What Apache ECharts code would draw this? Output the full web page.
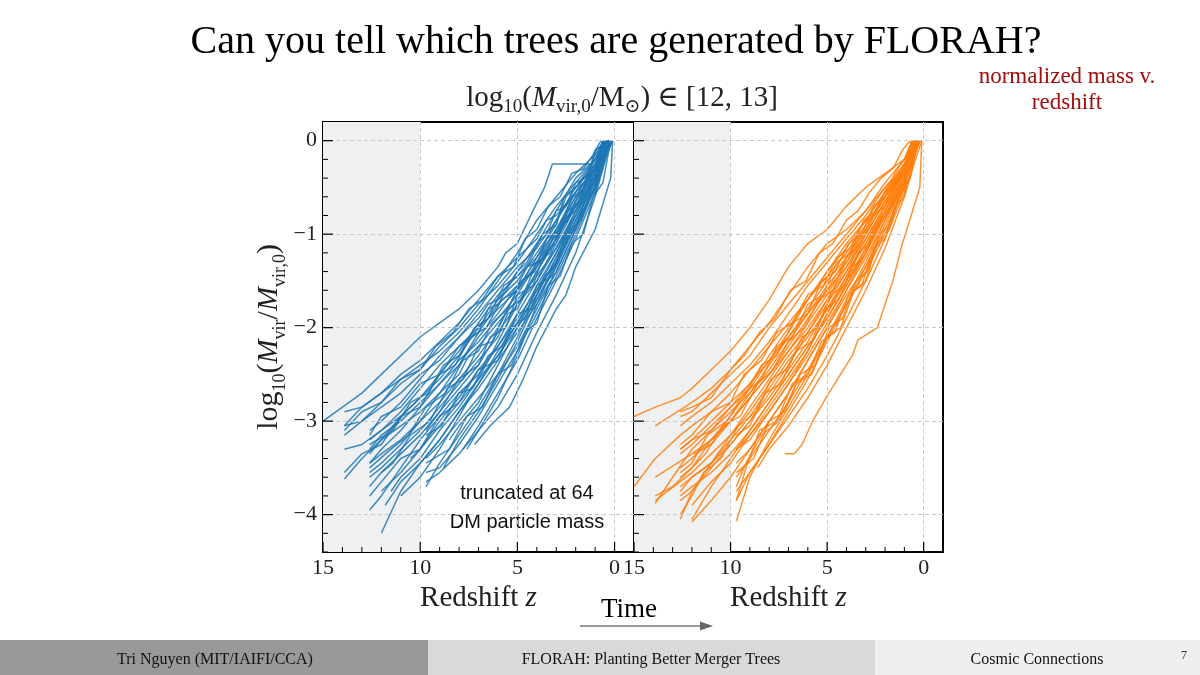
<!DOCTYPE html>
<html><head><meta charset="utf-8">
<script src="https://cdn.jsdelivr.net/npm/echarts@6/dist/echarts.min.js"></script>
<style>html,body{margin:0;padding:0;background:#fff}#c{width:1200px;height:675px}</style>
</head><body><div id="c"></div>
<script>
// ---- tick values ----
const zTicks = [0, 5, 10, 15];
const yTicks = [0, -1, -2, -3, -4];
const zMinorStep = 1;
const yMinorStep = 0.2;
const shadeRange = [10, 15];

// ---- main branches of merger trees (flat z,y pairs) ----
const blueTrees = [
 [0.3,0, 1,-0.1, 1.2,-0.25, 3.2,-0.25, 3.6,-0.5, 4.2,-0.75, 5,-1.1, 5.6,-1.2, 6,-1.35, 7,-1.6, 8,-1.8, 9,-1.95, 10,-2.1, 11,-2.3, 12,-2.5, 13,-2.7, 14,-2.85, 15,-3.0],
 [0.2,0, 1,-0.3, 1.6,-0.4, 2,-0.55, 3,-0.8, 3.5,-0.85, 4,-1.05, 5,-1.25, 6,-1.45, 7,-1.7, 8,-1.95, 9,-2.15, 10,-2.35, 11,-2.5, 12,-2.7, 13,-2.85, 13.9,-3.05],
 [0.5,0, 1,-0.2, 2,-0.5, 2.6,-0.6, 3,-0.9, 4,-1.2, 5,-1.5, 6,-1.7, 6.5,-1.75, 7,-1.9, 8,-2.1, 9,-2.35, 10,-2.5, 11,-2.7, 12,-2.85, 13,-3.0, 13.9,-3.15],
 [0.4,0, 1,-0.35, 2,-0.7, 3,-1.0, 4,-1.3, 4.5,-1.35, 5,-1.55, 6,-1.85, 7,-2.1, 8,-2.4, 9,-2.6, 10,-2.8, 11,-3.0, 12,-3.15, 12.6,-3.3],
 [0.3,0, 1,-0.4, 2,-0.8, 3,-1.15, 4,-1.45, 5,-1.7, 6,-1.95, 7,-2.2, 7.5,-2.3, 8,-2.5, 9,-2.7, 10,-2.9, 11,-3.05, 12,-3.2, 13,-3.4, 13.9,-3.62],
 [0.6,0, 1,-0.3, 2,-0.65, 3,-1.05, 4,-1.4, 5,-1.8, 5.5,-1.85, 6,-2.1, 7,-2.35, 8,-2.6, 9,-2.85, 10,-3.1, 11,-3.3, 12,-3.5, 12.6,-3.6],
 [0.2,0, 1,-0.5, 2,-0.9, 3,-1.3, 4,-1.6, 5,-1.9, 6,-2.2, 7,-2.5, 8,-2.7, 9,-2.95, 10,-3.2, 11,-3.5, 12,-3.8, 12.6,-3.95],
 [0.5,0, 1,-0.45, 2,-0.95, 3,-1.4, 4,-1.75, 5,-2.05, 6,-2.35, 7,-2.65, 8,-2.9, 9,-3.2, 10,-3.45, 11,-3.75, 12,-4.2],
 [0.1,0, 1,-0.4, 2,-0.85, 3,-1.25, 4,-1.65, 5,-2.1, 6,-2.5, 7,-2.85, 8,-3.15, 9,-3.45, 9.7,-3.7],
 [0.1,0, 0.2,-0.4, 1,-0.95, 2,-1.35, 2.5,-1.65, 3,-1.8, 4,-2.2, 4.7,-2.55, 5.4,-2.85, 6.4,-3.05, 7.2,-3.25],
 [0.3,0, 1,-0.2, 2,-0.45, 3,-0.7, 4,-1.0, 5,-1.3, 6,-1.55, 7,-1.75, 8,-2.0, 9,-2.2, 10,-2.45, 11,-2.6, 12,-2.8, 13,-3.0, 13.9,-3.05],
 [0.6,0, 1,-0.25, 2,-0.6, 3,-0.95, 4,-1.25, 5,-1.45, 6,-1.65, 7,-1.95, 8,-2.25, 9,-2.5, 10,-2.75, 11,-2.95, 12,-3.2, 12.6,-3.35],
 [0.2,0, 1,-0.3, 2,-0.7, 3,-1.1, 4,-1.5, 5,-1.85, 6,-2.2, 7,-2.45, 8,-2.75, 9,-3.0, 10,-3.3, 11,-3.55, 12,-3.75],
 [0.5,0, 1,-0.4, 2,-0.75, 3,-1.2, 4,-1.55, 5,-1.95, 6,-2.3, 7,-2.6, 8,-2.95, 9,-3.3, 10,-3.6, 11,-3.8],
 [0.3,0, 1,-0.5, 2,-1.0, 3,-1.45, 4,-1.85, 5,-2.25, 6,-2.6, 7,-2.95, 8,-3.25, 9,-3.5, 9.7,-3.55],
 [0.4,0, 1,-0.35, 2,-0.8, 3,-1.2, 4,-1.6, 5,-2.0, 6,-2.4, 7,-2.8, 8,-3.05, 8.5,-3.2],
 [0.2,0, 1,-0.6, 2,-1.2, 3,-1.65, 4,-2.05, 5,-2.5, 6,-2.85, 7,-3.1, 7.6,-3.3],
 [0.5,0, 1,-0.3, 2,-0.55, 3,-0.95, 4,-1.3, 5,-1.65, 6,-1.9, 7,-2.15, 8,-2.35, 9,-2.6, 10,-2.85, 11,-3.1, 12,-3.3, 12.6,-3.45],
 [0.3,0, 1,-0.25, 2,-0.6, 3,-1.0, 4,-1.35, 5,-1.6, 6,-1.8, 7,-2.0, 8,-2.2, 9,-2.4, 10,-2.65, 11,-2.9, 12,-3.1, 12.6,-3.2],
 [0.4,0, 1,-0.45, 2,-0.85, 3,-1.3, 4,-1.7, 5,-2.0, 6,-2.3, 7,-2.55, 8,-2.8, 9,-3.05, 10,-3.3, 10.5,-3.4],
 [0.6,0, 1,-0.2, 2,-0.4, 3,-0.75, 4,-1.1, 5,-1.4, 6,-1.7, 7,-2.0, 8,-2.3, 9,-2.55, 10,-2.75, 11,-2.95, 12,-3.1, 13,-3.25, 13.9,-3.3],
 [0.3,0, 1,-0.35, 2,-0.75, 3,-1.15, 4,-1.5, 5,-1.75, 6,-2.05, 7,-2.4, 8,-2.65, 9,-2.9, 10,-3.15, 11,-3.35, 12,-3.55, 12.6,-3.7],
 [0.2,0, 1,-0.4, 2,-0.9, 3,-1.35, 4,-1.7, 5,-2.15, 6,-2.55, 7,-2.9, 8,-3.2, 8.8,-3.5],
 [0.5,0, 1,-0.5, 2,-0.95, 3,-1.4, 4,-1.8, 5,-2.2, 6,-2.5, 7,-2.75, 8,-3.0, 9,-3.25, 9.7,-3.4],
 [0.4,0, 1,-0.3, 2,-0.65, 3,-1.05, 4,-1.4, 5,-1.75, 6,-2.15, 7,-2.55, 8,-2.85, 9,-3.1, 10,-3.4, 11,-3.6, 11.5,-3.75],
 [0.3,0, 1,-0.15, 2,-0.35, 3,-0.6, 4,-0.85, 5,-1.2, 6,-1.5, 7,-1.8, 8,-2.05, 9,-2.25, 10,-2.4, 11,-2.55, 12,-2.7, 13,-2.85, 13.9,-2.9],
 [0.5,0, 1,-0.4, 2,-0.7, 3,-1.05, 4,-1.35, 5,-1.55, 6,-1.75, 7,-2.05, 8,-2.4, 9,-2.7, 10,-3.0, 11,-3.25, 12,-3.45, 12.6,-3.55],
 [0.2,0, 1,-0.55, 2,-1.05, 3,-1.5, 4,-1.9, 5,-2.35, 6,-2.7, 7,-3.05, 7.8,-3.3],
 [0.4,0, 1,-0.25, 2,-0.5, 3,-0.85, 4,-1.25, 5,-1.6, 6,-2.0, 7,-2.3, 8,-2.55, 9,-2.8, 10,-3.0, 11,-3.2, 12,-3.35, 12.6,-3.45],
 [0.6,0, 1,-0.35, 2,-0.8, 3,-1.25, 4,-1.65, 5,-1.95, 6,-2.25, 7,-2.6, 8,-2.9, 9,-3.2, 10,-3.45, 11,-3.65, 11.8,-3.9],
 [0.3,0, 1,-0.3, 2,-0.55, 3,-0.85, 4,-1.15, 5,-1.35, 6,-1.6, 7,-1.85, 8,-2.1, 9,-2.3, 10,-2.55, 11,-2.8, 12,-3.0, 12.6,-3.1],
 [0.4,0, 1,-0.5, 2,-0.9, 3,-1.3, 4,-1.75, 5,-2.3, 6,-2.75, 7,-3.1, 8,-3.35, 9,-3.55, 9.7,-3.65],
 [0.2,0, 0.6,-0.15, 1,-0.2, 1.5,-0.4, 2,-0.45, 2.5,-0.7, 3,-0.75, 3.5,-1.0, 4,-1.1, 4.5,-1.3, 5,-1.4, 6,-1.75, 6.5,-1.8, 7,-2.05, 8,-2.2, 9,-2.5, 10,-2.6, 11,-2.85, 12,-2.95, 12.6,-3.15],
 [0.4,0, 0.8,-0.3, 1.3,-0.35, 1.8,-0.65, 2.4,-0.75, 3,-1.1, 3.6,-1.2, 4.2,-1.55, 5,-1.65, 5.6,-2.0, 6.4,-2.1, 7,-2.4, 8,-2.55, 9,-2.9, 9.7,-3.1],
 [0.1,0, 0.5,-0.2, 1,-0.55, 1.5,-0.6, 2,-0.95, 2.6,-1.05, 3.2,-1.45, 4,-1.55, 4.6,-1.9, 5.3,-2.0, 6,-2.35, 7,-2.45, 8,-2.8, 9,-2.95, 10,-3.3, 11,-3.4, 12,-3.65, 12.6,-3.8],
 [0.7,0, 1.1,-0.15, 1.6,-0.3, 2.2,-0.35, 2.8,-0.6, 3.4,-0.7, 4,-0.95, 4.6,-1.05, 5.2,-1.35, 6,-1.45, 6.8,-1.7, 7.5,-1.8, 8.3,-2.05, 9.2,-2.2, 10,-2.45, 11,-2.55, 12,-2.8, 13,-2.9, 13.9,-3.1],
 [0.3,0, 0.7,-0.35, 1.2,-0.5, 1.7,-0.85, 2.3,-0.95, 2.9,-1.3, 3.6,-1.45, 4.3,-1.8, 5,-1.85, 5.8,-2.2, 6.5,-2.3, 7.3,-2.65, 8,-2.7, 8.9,-3.05, 9.7,-3.15],
 [0.5,0, 0.9,-0.1, 1.4,-0.35, 2,-0.5, 2.5,-0.6, 3,-0.9, 3.7,-1.0, 4.4,-1.3, 5,-1.45, 5.7,-1.55, 6.5,-1.9, 7.2,-2.0, 8,-2.3, 8.8,-2.4, 9.6,-2.7, 10.5,-2.8, 11.4,-3.1, 12.6,-3.25],
 [0.2,0, 0.6,-0.45, 1.1,-0.6, 1.6,-1.0, 2.2,-1.1, 2.8,-1.45, 3.4,-1.55, 4,-1.95, 4.6,-2.05, 5.3,-2.4, 6,-2.5, 6.8,-2.85, 7.6,-2.95, 8.5,-3.3, 9.7,-3.45],
 [0.6,0, 1,-0.3, 1.5,-0.45, 2,-0.75, 2.7,-0.85, 3.3,-1.2, 4,-1.3, 4.8,-1.7, 5.5,-1.8, 6.3,-2.15, 7,-2.2, 7.8,-2.55, 8.6,-2.65, 9.5,-3.0, 10.5,-3.15, 11.4,-3.45, 12,-3.55],
 [0.3,0, 0.8,-0.2, 1.3,-0.45, 1.8,-0.55, 2.4,-0.85, 3,-0.95, 3.6,-1.25, 4.3,-1.35, 5,-1.6, 5.8,-1.7, 6.6,-2.0, 7.4,-2.1, 8.2,-2.4, 9,-2.5, 10,-2.85, 11,-2.95, 12,-3.25, 13,-3.35, 13.9,-3.55],
 [0.4,0, 0.8,-0.25, 1.2,-0.3, 1.7,-0.55, 2.2,-0.6, 2.8,-0.95, 3.5,-1.05, 4.1,-1.4, 4.8,-1.5, 5.5,-1.8, 6.3,-1.95, 7,-2.25, 7.8,-2.35, 8.7,-2.7, 9.7,-2.85, 10.6,-3.15, 11.5,-3.3, 12.6,-3.5]
];

const orangeTrees = [
 [0.2,0, 1,-0.2, 2,-0.35, 3,-0.5, 4,-0.7, 5,-0.95, 6,-1.1, 7,-1.35, 8,-1.7, 9,-2.0, 10,-2.25, 11,-2.45, 12,-2.65, 12.6,-2.75, 13.9,-2.85, 15,-2.95],
 [0.5,0, 1,-0.3, 2,-0.5, 3,-0.75, 4,-0.95, 5,-1.1, 6,-1.35, 7,-1.65, 8,-1.95, 9,-2.2, 10,-2.45, 11,-2.65, 12,-2.8, 13.9,-3.05],
 [0.3,0, 1,-0.35, 2,-0.6, 3,-0.9, 4,-1.2, 5,-1.45, 6,-1.7, 7,-1.95, 8,-2.2, 9,-2.45, 10,-2.7, 11,-2.9, 12,-3.05, 12.6,-3.15, 13.9,-3.4, 15,-3.7],
 [0.6,0, 1,-0.25, 2,-0.55, 3,-0.85, 4,-1.15, 5,-1.4, 6,-1.7, 7,-2.0, 8,-2.3, 9,-2.6, 10,-2.8, 11,-3.0, 12,-3.2, 12.6,-3.3],
 [0.2,0, 1,-0.4, 2,-0.75, 3,-1.1, 4,-1.4, 5,-1.7, 6,-2.0, 7,-2.25, 8,-2.5, 9,-2.75, 10,-3.0, 11,-3.2, 12,-3.4, 12.6,-3.5],
 [0.4,0, 1,-0.3, 2,-0.7, 3,-1.05, 4,-1.35, 5,-1.6, 6,-1.85, 7,-2.15, 8,-2.45, 9,-2.7, 10,-2.9, 11,-3.1, 12,-3.3, 13,-3.6, 13.9,-3.88],
 [0.5,0, 1,-0.45, 2,-0.85, 3,-1.25, 4,-1.6, 5,-1.95, 6,-2.3, 7,-2.6, 8,-2.9, 9,-3.2, 9.7,-3.3],
 [0.3,0, 1,-0.5, 2,-1.0, 3,-1.4, 4,-1.75, 5,-2.1, 6,-2.45, 7,-2.8, 8,-3.1, 9,-3.4, 9.7,-3.6],
 [0.1,0, 0.2,-0.5, 1.1,-1.1, 1.6,-1.5, 2.4,-2.0, 3.4,-2.13, 3.7,-2.3, 5,-2.73, 5.7,-2.98, 6.3,-3.25, 6.7,-3.35, 7.2,-3.35],
 [0.4,0, 1,-0.35, 2,-0.75, 3,-1.15, 4,-1.55, 5,-1.9, 6,-2.2, 7,-2.5, 8,-2.8, 9,-3.1, 10,-3.4, 11,-3.7, 12,-4.05],
 [0.2,0, 1,-0.4, 2,-0.85, 3,-1.3, 4,-1.7, 5,-2.1, 6,-2.5, 7,-2.85, 8,-3.2, 9,-3.6, 9.7,-4.07],
 [0.6,0, 1,-0.3, 2,-0.6, 3,-0.95, 4,-1.3, 5,-1.65, 6,-1.95, 7,-2.25, 8,-2.55, 9,-2.85, 10,-3.15, 11,-3.45, 12,-3.75, 12.6,-4.05],
 [0.3,0, 1,-0.25, 2,-0.5, 3,-0.8, 4,-1.05, 5,-1.3, 6,-1.55, 7,-1.85, 8,-2.15, 9,-2.4, 10,-2.6, 11,-2.8, 12,-2.95, 12.6,-3.05],
 [0.5,0, 1,-0.55, 2,-1.05, 3,-1.5, 4,-1.9, 5,-2.3, 6,-2.65, 7,-2.95, 8,-3.25, 9,-3.55, 9.7,-3.85],
 [0.2,0, 1,-0.35, 2,-0.65, 3,-1.0, 4,-1.3, 5,-1.55, 6,-1.85, 7,-2.1, 8,-2.35, 9,-2.65, 10,-2.95, 11,-3.2, 12,-3.5, 12.6,-3.6],
 [0.4,0, 1,-0.4, 2,-0.8, 3,-1.2, 4,-1.5, 5,-1.8, 6,-2.1, 7,-2.35, 8,-2.65, 9,-2.95, 10,-3.2, 11,-3.45, 12,-3.6, 12.6,-3.7],
 [0.3,0, 1,-0.3, 2,-0.55, 3,-0.85, 4,-1.1, 5,-1.4, 6,-1.7, 7,-2.05, 8,-2.35, 9,-2.6, 10,-2.85, 11,-3.05, 12,-3.25, 12.6,-3.35],
 [0.5,0, 1,-0.45, 2,-0.9, 3,-1.35, 4,-1.75, 5,-2.15, 6,-2.55, 7,-2.9, 8,-3.25, 9,-3.55, 9.7,-3.75],
 [0.2,0, 1,-0.3, 2,-0.7, 3,-1.1, 4,-1.45, 5,-1.8, 6,-2.15, 7,-2.45, 8,-2.75, 9,-3.0, 10,-3.25, 11,-3.5, 12,-3.75, 12.6,-3.85],
 [0.6,0, 1,-0.2, 2,-0.45, 3,-0.75, 4,-1.0, 5,-1.25, 6,-1.5, 7,-1.75, 8,-2.0, 9,-2.3, 10,-2.5, 11,-2.7, 12,-2.9, 12.6,-2.95],
 [0.4,0, 1,-0.5, 2,-0.95, 3,-1.35, 4,-1.65, 5,-2.0, 6,-2.35, 7,-2.7, 8,-3.0, 9,-3.3, 9.7,-3.45],
 [0.3,0, 1,-0.6, 2,-1.15, 3,-1.6, 4,-2.0, 5,-2.4, 6,-2.75, 7,-3.05, 8,-3.3, 8.6,-3.5],
 [0.5,0, 1,-0.35, 2,-0.65, 3,-1.0, 4,-1.4, 5,-1.75, 6,-2.05, 7,-2.3, 8,-2.6, 9,-2.9, 10,-3.15, 11,-3.35, 12,-3.55, 13.9,-3.85],
 [0.2,0, 1,-0.45, 2,-0.8, 3,-1.15, 4,-1.5, 5,-1.85, 6,-2.25, 7,-2.6, 8,-2.9, 9,-3.15, 10,-3.45, 11,-3.65, 12,-3.9],
 [0.4,0, 1,-0.25, 2,-0.6, 3,-0.95, 4,-1.25, 5,-1.5, 6,-1.8, 7,-2.1, 8,-2.4, 9,-2.7, 10,-3.0, 11,-3.25, 11.9,-3.35],
 [0.6,0, 1,-0.4, 2,-0.7, 3,-1.05, 4,-1.45, 5,-1.85, 6,-2.25, 7,-2.55, 8,-2.85, 9,-3.15, 9.7,-3.3],
 [0.3,0, 1,-0.35, 2,-0.75, 3,-1.2, 4,-1.6, 5,-2.0, 6,-2.35, 7,-2.7, 8,-3.0, 9,-3.3, 10,-3.6, 11,-3.85, 12,-4.08],
 [0.5,0, 1,-0.3, 2,-0.6, 3,-0.9, 4,-1.25, 5,-1.6, 6,-1.9, 7,-2.2, 8,-2.5, 9,-2.75, 10,-3.0, 11,-3.2, 12,-3.35, 13.9,-3.6],
 [0.3,0, 1,-0.4, 2,-0.8, 3,-1.2, 4,-1.55, 5,-1.9, 6,-2.2, 7,-2.5, 8,-2.8, 9,-3.1, 10,-3.35, 11,-3.55, 12,-3.7, 12.6,-3.8],
 [0.5,0, 1,-0.3, 2,-0.65, 3,-1.0, 4,-1.35, 5,-1.7, 6,-2.05, 7,-2.4, 8,-2.7, 9,-3.0, 10,-3.25, 11,-3.45, 12,-3.6, 12.6,-3.75],
 [0.2,0, 0.6,-0.2, 1,-0.3, 1.5,-0.5, 2,-0.55, 2.6,-0.8, 3.2,-0.9, 3.8,-1.15, 4.5,-1.25, 5.2,-1.55, 6,-1.65, 6.8,-1.95, 7.6,-2.05, 8.4,-2.35, 9.3,-2.5, 10,-2.8, 11,-2.9, 12,-3.15, 12.6,-3.25],
 [0.5,0, 0.9,-0.35, 1.4,-0.45, 1.9,-0.8, 2.5,-0.9, 3.1,-1.25, 3.7,-1.35, 4.4,-1.7, 5.1,-1.8, 5.8,-2.15, 6.6,-2.25, 7.4,-2.6, 8.2,-2.7, 9,-3.05, 9.7,-3.15],
 [0.1,0, 0.5,-0.25, 1,-0.6, 1.5,-0.7, 2,-1.05, 2.6,-1.15, 3.2,-1.55, 3.9,-1.65, 4.6,-2.05, 5.3,-2.15, 6,-2.5, 6.8,-2.6, 7.6,-3.0, 8.5,-3.1, 9.2,-3.5, 9.7,-3.85],
 [0.7,0, 1.1,-0.1, 1.6,-0.3, 2.2,-0.4, 2.8,-0.55, 3.4,-0.75, 4,-0.85, 4.7,-1.1, 5.4,-1.2, 6.1,-1.5, 6.9,-1.6, 7.7,-1.9, 8.5,-2.05, 9.3,-2.3, 10,-2.45, 11,-2.75, 12,-2.85, 12.6,-2.9],
 [0.3,0, 0.7,-0.4, 1.2,-0.55, 1.7,-0.9, 2.3,-1.0, 2.9,-1.4, 3.5,-1.5, 4.2,-1.9, 4.9,-2.0, 5.6,-2.4, 6.4,-2.5, 7.2,-2.9, 8,-3.0, 8.8,-3.4, 9.7,-3.55],
 [0.4,0, 0.8,-0.2, 1.3,-0.4, 1.9,-0.5, 2.5,-0.75, 3.1,-0.85, 3.8,-1.2, 4.5,-1.3, 5.2,-1.65, 6,-1.75, 6.8,-2.1, 7.6,-2.2, 8.4,-2.55, 9.3,-2.7, 10.2,-3.0, 11.2,-3.15, 12,-3.45, 12.6,-3.55],
 [0.2,0, 0.7,-0.3, 1.1,-0.45, 1.6,-0.7, 2.2,-0.8, 2.8,-1.1, 3.4,-1.2, 4.1,-1.55, 4.8,-1.65, 5.5,-2.0, 6.3,-2.1, 7.1,-2.45, 7.9,-2.55, 8.7,-2.9, 9.6,-3.05, 10.5,-3.4, 11.4,-3.55, 12,-3.8, 12.6,-4.0],
 [0.6,0, 1,-0.2, 1.5,-0.35, 2,-0.6, 2.6,-0.7, 3.2,-1.0, 3.9,-1.1, 4.6,-1.4, 5.3,-1.5, 6,-1.85, 6.8,-1.95, 7.6,-2.3, 8.4,-2.4, 9.2,-2.7, 10,-2.85, 11,-3.1, 12,-3.2, 12.6,-3.3],
 [0.3,0, 0.8,-0.45, 1.3,-0.6, 1.8,-0.95, 2.4,-1.1, 3,-1.5, 3.6,-1.6, 4.3,-2.0, 5,-2.1, 5.8,-2.5, 6.6,-2.6, 7.5,-3.0, 8.4,-3.15, 9.2,-3.45, 9.7,-3.7],
 [0.4,0, 0.9,-0.3, 1.4,-0.4, 2,-0.7, 2.6,-0.8, 3.3,-1.1, 4,-1.25, 4.7,-1.6, 5.4,-1.7, 6.2,-2.0, 7,-2.15, 7.8,-2.45, 8.6,-2.6, 9.5,-2.95, 10.4,-3.05, 11.3,-3.35, 12,-3.5, 13,-3.7, 13.9,-3.8]
];

const panelColors = ['#1f77b4', '#ff7f0e'];
const SERIF = '"Liberation Serif", "DejaVu Serif", serif';
const X_MIN = -1, X_MAX = 15, Y_MIN = -4.4, Y_MAX = 0.2;

function toPairs(flat){ const out=[]; for(let i=0;i<flat.length;i+=2) out.push([flat[i],flat[i+1]]); return out; }
const fmtY = v => (v < 0 ? '\u2212' + Math.abs(v) : String(v));

// tick list: [value, kind(0=x,1=y), lengthPx]
const tickData = [];
for (let k = 0; k <= 15; k += zMinorStep) tickData.push([k, 0, zTicks.indexOf(k) >= 0 ? 10 : 5]);
for (let k = 0; k <= 22; k++) {
  const v = Math.round((Y_MIN + k * yMinorStep) * 10) / 10;
  if (v > Y_MAX) break;
  tickData.push([v, 1, yTicks.indexOf(v) >= 0 ? 10 : 5]);
}

const grids = [
  {left: 323, top: 122, width: 311, height: 430},
  {left: 634, top: 122, width: 309, height: 430}
];

const xAxes = [], yAxes = [], series = [];
const nameRich = {
  it: {fontFamily: SERIF, fontStyle: 'italic', fontSize: 29, color: '#222', lineHeight: 40, verticalAlign: 'middle'},
  sub: {fontFamily: SERIF, fontSize: 18, color: '#222', lineHeight: 18, verticalAlign: 'bottom'}
};
const xNameRich = {
  it: {fontFamily: SERIF, fontStyle: 'italic', fontSize: 29, color: '#222', lineHeight: 26, verticalAlign: 'middle'}
};

[0, 1].forEach(g => {
  xAxes.push({
    gridIndex: g, type: 'value', inverse: true, min: X_MIN, max: X_MAX, position: 'bottom',
    axisLine: {show: true, onZero: false, lineStyle: {color: '#000', width: 2}},
    axisTick: {show: false},
    axisLabel: {show: true, customValues: zTicks, formatter: v => String(v), fontFamily: SERIF, fontSize: 22, lineHeight: 18, color: '#222', margin: 7},
    splitLine: {show: false},
    name: 'Redshift {it|z}', nameLocation: 'middle', nameGap: 10,
    nameTextStyle: {fontFamily: SERIF, fontSize: 29, color: '#222', lineHeight: 26, rich: xNameRich}
  });
  const ya = {
    gridIndex: g, type: 'value', min: Y_MIN, max: Y_MAX, position: 'left',
    axisLine: {show: true, onZero: false, lineStyle: {color: '#000', width: 2}},
    axisTick: {show: false},
    axisLabel: {show: g === 0, customValues: yTicks, formatter: fmtY, fontFamily: SERIF, fontSize: 22, color: '#222', margin: 6},
    splitLine: {show: false}
  };
  if (g === 0) {
    ya.name = 'log{sub|10}({it|M}{sub|vir}/{it|M}{sub|vir,0})';
    ya.nameLocation = 'middle';
    ya.nameGap = 34;
    ya.nameTextStyle = {fontFamily: SERIF, fontSize: 30, color: '#222', lineHeight: 40, rich: nameRich};
  }
  yAxes.push(ya);

  // background shading + dashed grid
  series.push({
    type: 'line', xAxisIndex: g, yAxisIndex: g, data: [[15, 0]],
    symbol: 'none', lineStyle: {opacity: 0}, silent: true, z: 1,
    markArea: {silent: true, itemStyle: {color: '#eff0f2'}, data: [[{xAxis: shadeRange[0]}, {xAxis: shadeRange[1]}]]},
    markLine: {
      silent: true, symbol: ['none', 'none'], label: {show: false},
      lineStyle: {type: [4, 3], color: '#c9c9c9', width: 1},
      data: zTicks.filter(v => v < 15).map(v => ({xAxis: v})).concat(yTicks.map(v => ({yAxis: v})))
    }
  });

  // inward ticks (matplotlib style) drawn through the axis scales
  series.push({
    type: 'custom', xAxisIndex: g, yAxisIndex: g, data: tickData, silent: true, z: 5, clip: false,
    renderItem: (params, api) => {
      const v = api.value(0), kind = api.value(1), len = api.value(2);
      if (kind === 0) {
        const p = api.coord([v, Y_MIN]);
        return {type: 'line', shape: {x1: p[0], y1: p[1], x2: p[0], y2: p[1] - len}, style: {stroke: '#000', lineWidth: len > 6 ? 1.2 : 1}};
      }
      const p = api.coord([X_MAX, v]);
      return {type: 'line', shape: {x1: p[0], y1: p[1], x2: p[0] + len, y2: p[1]}, style: {stroke: '#000', lineWidth: len > 6 ? 1.2 : 1}};
    }
  });

  const trees = g === 0 ? blueTrees : orangeTrees;
  trees.forEach(t => series.push({
    type: 'line', xAxisIndex: g, yAxisIndex: g, data: toPairs(t),
    symbol: 'none', showSymbol: false, silent: true, z: 3,
    lineStyle: {color: panelColors[g], width: 1.5, opacity: 0.85}
  }));
});

const txt = (x, y, text, font, fill, extra) => Object.assign({
  type: 'text', x: x, y: y, silent: true,
  style: Object.assign({text: text, font: font, fill: fill, align: 'center', verticalAlign: 'middle'}, extra || {})
});

const graphic = [
  // footer
  {type: 'rect', shape: {x: 0, y: 640, width: 428, height: 35}, style: {fill: '#999999'}, silent: true},
  {type: 'rect', shape: {x: 428, y: 640, width: 447, height: 35}, style: {fill: '#d9d9d9'}, silent: true},
  {type: 'rect', shape: {x: 875, y: 640, width: 325, height: 35}, style: {fill: '#efefef'}, silent: true},
  txt(215, 660, 'Tri Nguyen (MIT/IAIFI/CCA)', '16px ' + SERIF, '#111'),
  txt(651, 660, 'FLORAH: Planting Better Merger Trees', '16px ' + SERIF, '#111'),
  txt(1037, 660, 'Cosmic Connections', '16px ' + SERIF, '#111'),
  txt(1184, 656, '7', '12px ' + SERIF, '#333'),
  // title
  txt(616, 42, 'Can you tell which trees are generated by FLORAH?', '40px ' + SERIF, '#000'),
  // panel super-title
  {type: 'text', x: 622, y: 98, silent: true, style: {
    text: 'log{sub|10}({it|M}{sub|vir,0}/M{sub|\u2299}) \u2208 [12, 13]',
    font: '29px ' + SERIF, fill: '#222', align: 'center', verticalAlign: 'middle',
    rich: {
      it: {fontFamily: SERIF, fontStyle: 'italic', fontSize: 29, fill: '#222', lineHeight: 38, verticalAlign: 'middle'},
      sub: {fontFamily: SERIF, fontSize: 19, fill: '#222', lineHeight: 19, verticalAlign: 'bottom'}
    }
  }},
  // red note
  txt(1067, 77, 'normalized mass v.', '23px ' + SERIF, '#a00d0d'),
  txt(1067, 103, 'redshift', '23px ' + SERIF, '#a00d0d'),
  // annotation
  txt(527, 493, 'truncated at 64', '20px "Liberation Sans", Arial, sans-serif', '#111'),
  txt(527, 522, 'DM particle mass', '20px "Liberation Sans", Arial, sans-serif', '#111'),
  // Time arrow
  txt(629, 610, 'Time', '27px ' + SERIF, '#000'),
  {type: 'line', shape: {x1: 580, y1: 626, x2: 702, y2: 626}, style: {stroke: '#777', lineWidth: 1.5}, silent: true},
  {type: 'polygon', shape: {points: [[700, 621.5], [713, 626], [700, 630.5]]}, style: {fill: '#666'}, silent: true}
];

const chart = echarts.init(document.getElementById('c'), null, {renderer: 'canvas'});
chart.setOption({
  animation: false,
  backgroundColor: '#ffffff',
  grid: grids.map(g => Object.assign({show: true, borderColor: '#000', borderWidth: 2, backgroundColor: 'transparent', containLabel: false}, g)),
  xAxis: xAxes,
  yAxis: yAxes,
  series: series,
  graphic: graphic
});
</script></body></html>
